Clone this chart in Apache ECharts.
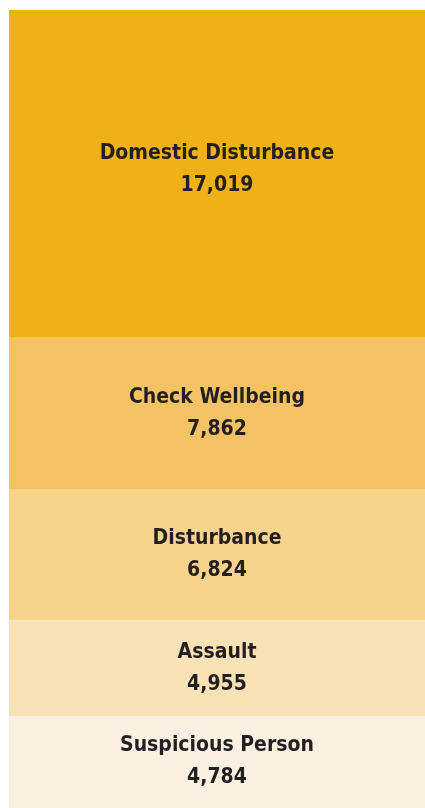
<!DOCTYPE html>
<html>
<head>
<meta charset="utf-8">
<script src="https://cdn.jsdelivr.net/npm/echarts@6/dist/echarts.min.js"></script>
<style>
html,body{margin:0;padding:0;background:#fff;}
#chart{width:425px;height:808px;}
</style>
</head>
<body>
<div id="chart"></div>
<script>
var categories = ['Domestic Disturbance', 'Check Wellbeing', 'Disturbance', 'Assault', 'Suspicious Person'];
var values = [17019, 7862, 6824, 4955, 4784];
var colors = ['#EFB115', '#F3C262', '#F7D38B', '#F9E1B6', '#FBF0E1'];

var total = values.reduce(function (a, b) { return a + b; }, 0);
var chart = echarts.init(document.getElementById('chart'), null, {renderer: 'canvas'});
var series = categories.map(function (name, i) {
  return {
    name: name,
    type: 'bar',
    stack: 'all',
    barWidth: '100%',
    data: [values[i]],
    itemStyle: {color: colors[i]},
    label: {
      show: true,
      position: 'inside',
      offset: i === 0 ? [0, -4] : [0, 0],
      formatter: function (p) {
        return p.seriesName + '\n' + p.value.toLocaleString('en-US');
      },
      color: '#231F20',
      fontFamily: '"DejaVu Sans Condensed"',
      fontWeight: 'bold',
      fontSize: 21,
      lineHeight: 32
    }
  };
});
chart.setOption({
  animation: false,
  grid: {left: 9, right: 0, top: 10, height: 801},
  xAxis: {type: 'category', data: [''], show: false},
  yAxis: {type: 'value', inverse: true, min: 0, max: total, show: false},
  series: series
});
</script>
</body>
</html>
